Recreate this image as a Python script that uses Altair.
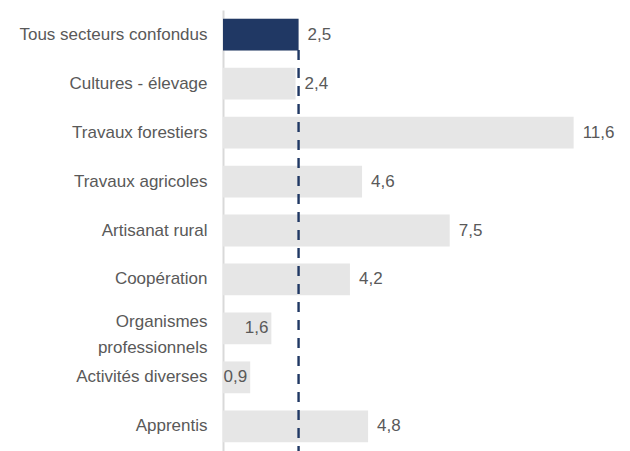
import altair as alt
import pandas as pd

categories = [
    "Tous secteurs confondus",
    "Cultures - élevage",
    "Travaux forestiers",
    "Travaux agricoles",
    "Artisanat rural",
    "Coopération",
    "Organismes professionnels",
    "Activités diverses",
    "Apprentis",
]
values = [2.5, 2.4, 11.6, 4.6, 7.5, 4.2, 1.6, 0.9, 4.8]
reference_value = 2.5
highlight = "Tous secteurs confondus"

NAVY = "#203864"
GREY = "#E6E6E6"
TXT = "#595959"
FONT = "Liberation Sans"
FS = 17

df = pd.DataFrame({"cat": categories, "val": values})

base = alt.Chart(df).transform_calculate(
    lab="replace(format(datum.val, '.1f'), '.', ',')"
)

y = alt.Y(
    "cat:N",
    sort=categories,
    title=None,
    scale=alt.Scale(paddingInner=0.35, paddingOuter=0.18),
    axis=alt.Axis(
        domainColor="#D9D9D9",
        domainWidth=2,
        ticks=False,
        labelFontSize=FS,
        labelColor=TXT,
        labelFont=FONT,
        labelPadding=16,
        labelLimit=0,
        labelLineHeight=26,
        labelOffset={
            "condition": {"test": "datum.label == 'Organismes professionnels'", "value": -6},
            "value": 0,
        },
        labelExpr="datum.label == 'Organismes professionnels' ? ['Organismes\u00a0\u00a0', 'professionnels'] : datum.label",
    ),
)
x = alt.X("val:Q", scale=alt.Scale(domain=[0, 13.2]), axis=None)

bars = base.mark_bar(color=GREY).encode(x=x, y=y)

rule = alt.Chart(pd.DataFrame({"val": [reference_value]})).mark_rule(
    color=NAVY, strokeWidth=2.4, strokeDash=[10, 8]
).encode(x=x, y=alt.value(40), y2=alt.value(441))

navy = base.transform_filter(alt.datum.cat == highlight).mark_bar(color=NAVY).encode(x=x, y=y)

text_out = base.transform_filter(alt.datum.val >= 2).mark_text(
    align="left", dx=9, fontSize=FS, color=TXT, font=FONT
).encode(x=x, y=y, text="lab:N")

text_in = base.transform_filter(alt.datum.val < 2).mark_text(
    align="right", dx=-3, fontSize=FS, color=TXT, font=FONT
).encode(x=x, y=y, text="lab:N")

chart = alt.layer(bars, rule, navy, text_out, text_in).properties(
    width=399,
    height=441,
    autosize=alt.AutoSizeParams(type="none"),
    padding={"left": 215, "top": 2, "right": 0, "bottom": 0},
).configure_view(stroke=None)

chart.save("out.html", embed_options={"renderer": "svg", "actions": False})
